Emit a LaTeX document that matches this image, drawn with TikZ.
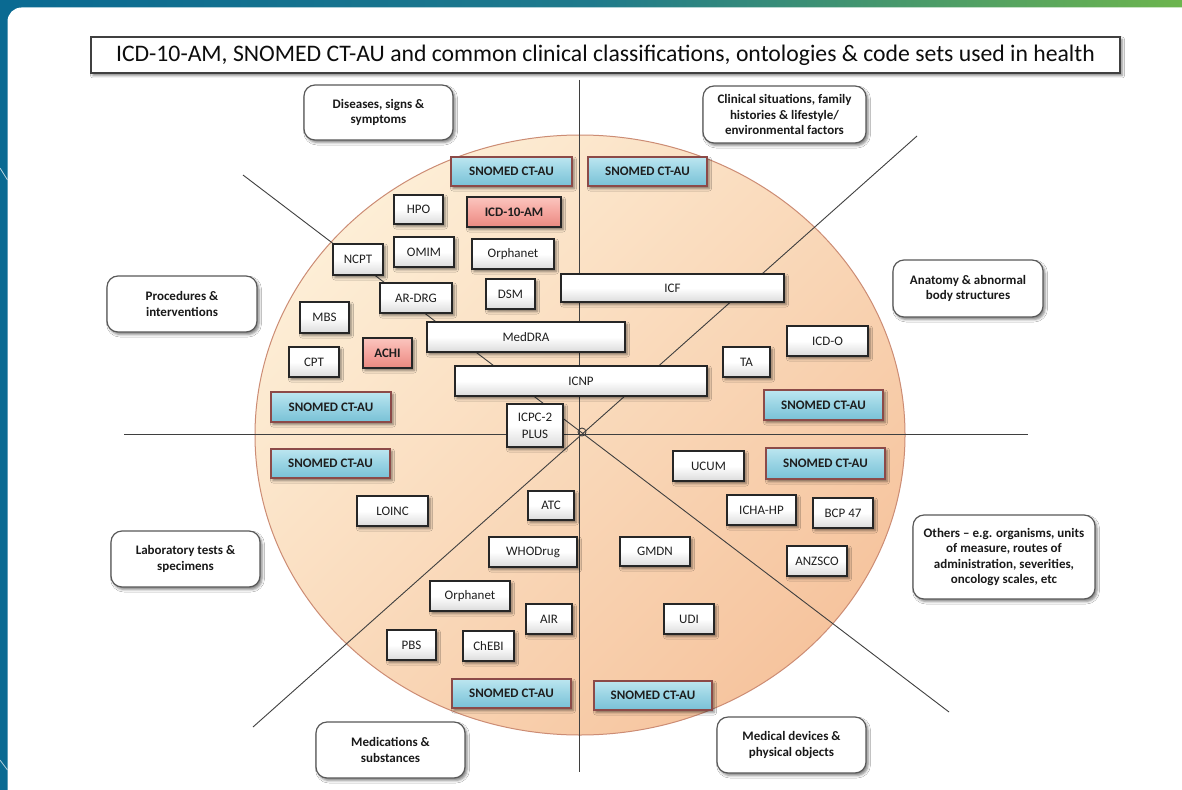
\documentclass[tikz,border=0pt]{standalone}
\usepackage{fontspec}
\setmainfont{Carlito}
\usetikzlibrary{shadows.blur}
\definecolor{bgteal}{HTML}{0A6A92}
\definecolor{bgmid}{HTML}{1F7A8C}
\definecolor{bggreen}{HTML}{6DB54E}
\definecolor{circlight}{HTML}{FDEED6}
\definecolor{circdark}{HTML}{F6C49E}
\definecolor{circedge}{HTML}{CC8C74}
\definecolor{divcol}{HTML}{3F3F3F}
\definecolor{boxline}{HTML}{262626}
\definecolor{txtcol}{HTML}{1E1E1E}
\definecolor{bluetop}{HTML}{BCE6F0}
\definecolor{bluemid}{HTML}{98D3E3}
\definecolor{bluebot}{HTML}{79C1D6}
\definecolor{blueline}{HTML}{8C4A48}
\definecolor{redtop}{HTML}{FBC5BE}
\definecolor{redmid}{HTML}{F5A69F}
\definecolor{redbot}{HTML}{E98980}
\definecolor{catline}{HTML}{595959}
\tikzset{
  base/.style={rectangle, inner sep=0pt, align=center, text=txtcol,
    font=\fontsize{13}{17}\selectfont},
  shad/.style={blur shadow={shadow xshift=2pt, shadow yshift=-2.5pt,
    shadow blur radius=2.5pt, shadow opacity=50}},
  wbox/.style={base, shad, draw=boxline, line width=1.6pt,
    top color=white, bottom color=black!14, middle color=white},
  sbox/.style={base, shad, draw=blueline, line width=1.5pt,
    top color=bluetop, bottom color=bluebot, middle color=bluemid,
    font=\bfseries\fontsize{13}{17}\selectfont},
  rbox/.style={base, shad, draw=boxline, line width=1.5pt,
    top color=redtop, bottom color=redbot, middle color=redmid,
    font=\bfseries\fontsize{13}{17}\selectfont},
  cbox/.style={rectangle, rounded corners=11pt, inner sep=0pt, align=center,
    shad, draw=catline, line width=1.2pt, fill=white, text=black!90,
    font=\bfseries\fontsize{13}{15.5}\selectfont},
  divline/.style={draw=divcol, line width=0.9pt}
}
\begin{document}
\begin{tikzpicture}[x=1pt,y=-1pt]
\useasboundingbox (0,0) rectangle (1182,789);
% slide background
\shade[left color=bgteal, right color=bggreen, middle color=bgmid] (0,0) rectangle (1182,789);
\fill[white, rounded corners=14pt] (7.5,7.5) rectangle (1210,820);
\draw[white!70!bgteal, line width=0.8pt] (0,168) -- (7.5,180);
\draw[white!70!bgteal, line width=0.8pt] (0,760) -- (7.5,770);

% title
\node[base, shad, draw=black!75, line width=1.3pt, fill=white,
  minimum width=1029, minimum height=36, text=black!95,
  font=\fontsize{23.7}{27}\selectfont] (title) at (605.5,55)
  {ICD-10-AM, SNOMED CT-AU and common clinical classifications, ontologies \& code sets used in health};

% big circle
\draw[draw=circedge, line width=1pt, top color=circlight, bottom color=circdark, shading angle=45]
  (580,435) ellipse [x radius=325, y radius=300];

% dividing lines
\coordinate (vT) at (579,80);
\coordinate (vB) at (579,772);
\coordinate (hL) at (124,434);
\coordinate (hR) at (1028,434);
\coordinate (dAa) at (243,175);
\coordinate (dAb) at (949,712);
\coordinate (dBa) at (917,136);
\coordinate (dBb) at (253,727);
\coordinate (ctr) at (582,432);
\draw[divline] (vT) -- (vB);
\draw[divline] (hL) -- (hR);
\draw[divline] (dAa) -- (dAb);
\draw[divline] (dBa) -- (dBb);
\draw[divline] (ctr) circle [radius=4];

% category boxes
\node[cbox, minimum width=149, minimum height=55] (c1) at (378.5,112.5) {Diseases, signs \&\\symptoms};
\node[cbox, minimum width=163, minimum height=57] (c2) at (784.5,114.5) {Clinical situations, family\\histories \& lifestyle/\\environmental factors};
\node[cbox, minimum width=150, minimum height=57] (c3) at (968,288.5) {Anatomy \& abnormal\\body structures};
\node[cbox, minimum width=150, minimum height=56] (c4) at (182,304) {Procedures \&\\interventions};
\node[cbox, minimum width=149, minimum height=56] (c5) at (185.5,559) {Laboratory tests \&\\specimens};
\node[cbox, minimum width=149, minimum height=56] (c6) at (390.5,750) {Medications \&\\substances};
\node[cbox, minimum width=149, minimum height=56] (c7) at (791.5,745) {Medical devices \&\\physical objects};
\node[cbox, minimum width=182, minimum height=84] (c8) at (1004,557) {Others – e.g. organisms, units\\of measure, routes of\\administration, severities,\\oncology scales, etc};

% SNOMED boxes
\node[sbox, minimum width=121, minimum height=29] (s1) at (511.5,171.5) {SNOMED CT-AU};
\node[sbox, minimum width=119, minimum height=29] (s2) at (647.5,171.5) {SNOMED CT-AU};
\node[sbox, minimum width=120, minimum height=30] (s3) at (331,407) {SNOMED CT-AU};
\node[sbox, minimum width=119, minimum height=30] (s4) at (823.5,405) {SNOMED CT-AU};
\node[sbox, minimum width=119, minimum height=29] (s5) at (330.5,463.5) {SNOMED CT-AU};
\node[sbox, minimum width=119, minimum height=31] (s6) at (825.5,463.5) {SNOMED CT-AU};
\node[sbox, minimum width=119, minimum height=29] (s7) at (511.5,693.5) {SNOMED CT-AU};
\node[sbox, minimum width=118, minimum height=29] (s8) at (653,695.5) {SNOMED CT-AU};

% red boxes
\node[rbox, minimum width=94, minimum height=30] (icd) at (514,212) {ICD-10-AM};
\node[rbox, minimum width=49, minimum height=30] (achi) at (387.5,353) {ACHI};

% white boxes
\node[wbox, minimum width=49, minimum height=29] (hpo) at (418.5,209.5) {HPO};
\node[wbox, minimum width=60, minimum height=30] (omim) at (424,252) {OMIM};
\node[wbox, minimum width=82, minimum height=30] (orpha) at (513,254) {Orphanet};
\node[wbox, minimum width=50, minimum height=31] (ncpt) at (358,259.5) {NCPT};
\node[wbox, minimum width=72, minimum height=30] (ardrg) at (416,298) {AR-DRG};
\node[wbox, minimum width=49, minimum height=30] (dsm) at (510.5,294) {DSM};
\node[wbox, minimum width=223, minimum height=28] (icf) at (672.5,288) {ICF};
\node[wbox, minimum width=49, minimum height=31] (mbs) at (324.5,317.5) {MBS};
\node[wbox, minimum width=50, minimum height=30] (cpt) at (314,362) {CPT};
\node[wbox, minimum width=198, minimum height=30] (meddra) at (526,337) {MedDRA};
\node[wbox, minimum width=252, minimum height=30] (icnp) at (581,381) {ICNP};
\node[wbox, minimum width=56, minimum height=43] (icpc) at (535,425.5) {ICPC-2\\PLUS};
\node[wbox, minimum width=47, minimum height=30] (ta) at (746.5,362) {TA};
\node[wbox, minimum width=81, minimum height=30] (icdo) at (827.5,341) {ICD-O};
\node[wbox, minimum width=71, minimum height=30] (ucum) at (708.5,466) {UCUM};
\node[wbox, minimum width=69, minimum height=30] (icha) at (761.5,510) {ICHA-HP};
\node[wbox, minimum width=60, minimum height=30] (bcp) at (843,513) {BCP 47};
\node[wbox, minimum width=60, minimum height=30] (anzsco) at (817,561) {ANZSCO};
\node[wbox, minimum width=71, minimum height=30] (loinc) at (392.5,511) {LOINC};
\node[wbox, minimum width=46, minimum height=29] (atc) at (551,505.5) {ATC};
\node[wbox, minimum width=88, minimum height=30] (whod) at (533,552) {WHODrug};
\node[wbox, minimum width=70, minimum height=29] (gmdn) at (655,551.5) {GMDN};
\node[wbox, minimum width=80, minimum height=30] (orphb) at (470,596) {Orphanet};
\node[wbox, minimum width=46, minimum height=30] (air) at (549,619) {AIR};
\node[wbox, minimum width=50, minimum height=30] (udi) at (689,619) {UDI};
\node[wbox, minimum width=49, minimum height=30] (pbs) at (411.5,645) {PBS};
\node[wbox, minimum width=51, minimum height=30] (chebi) at (488.5,646) {ChEBI};
\end{tikzpicture}
\end{document}
